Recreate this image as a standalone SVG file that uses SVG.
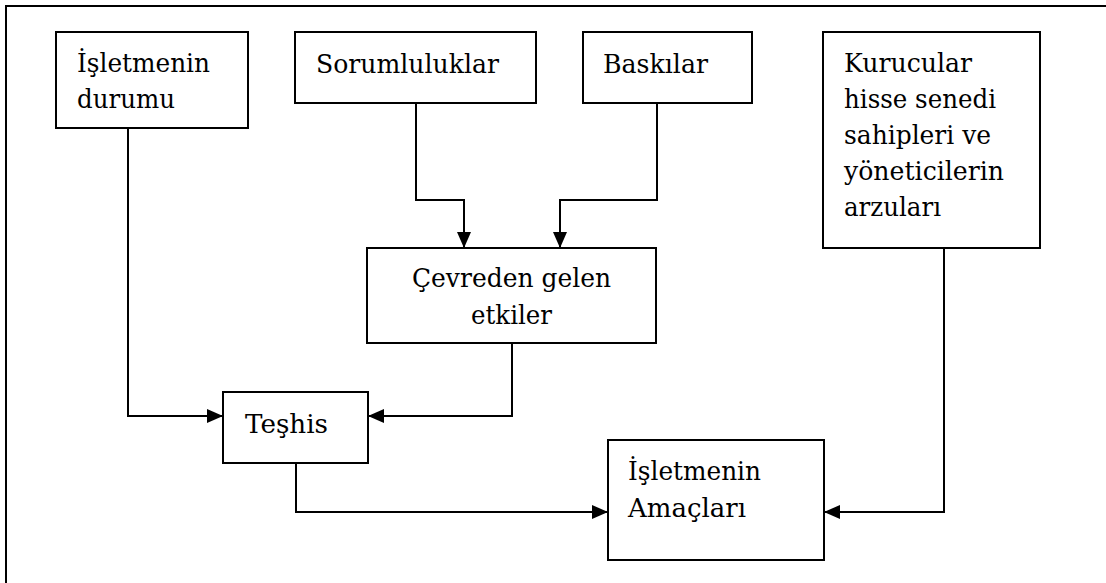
<svg xmlns="http://www.w3.org/2000/svg" width="1106" height="583" viewBox="0 0 1106 583">
<style>
.box{fill:#fff;stroke:#000;stroke-width:2}
.t{font-family:'DejaVu Serif','Liberation Serif',serif;font-size:26px;fill:#000}
.c{fill:none;stroke:#000;stroke-width:2}
</style>
<defs>
<marker id="ah" markerWidth="16" markerHeight="14" refX="16" refY="7" orient="auto" markerUnits="userSpaceOnUse">
<path d="M0,0 L16,7 L0,14 Z" fill="#000"/>
</marker>
</defs>
<rect x="0" y="0" width="1106" height="583" fill="#fff"/>
<path d="M6,583 L6,6 L1106,6" fill="none" stroke="#000" stroke-width="2"/>
<g id="connectors">
<path class="c" d="M416,103 L416,200 L464,200 L464,248" marker-end="url(#ah)"/>
<path class="c" d="M657,103 L657,200 L560,200 L560,248" marker-end="url(#ah)"/>
<path class="c" d="M128,128 L128,416 L223,416" marker-end="url(#ah)"/>
<path class="c" d="M512,343 L512,416 L368,416" marker-end="url(#ah)"/>
<path class="c" d="M296,463 L296,512 L608,512" marker-end="url(#ah)"/>
<path class="c" d="M944,248 L944,512 L824,512" marker-end="url(#ah)"/>
</g>
<g id="n-durum">
<rect class="box" x="56" y="32" width="192" height="96"/>
<text class="t" x="77" y="72" textLength="133" lengthAdjust="spacingAndGlyphs">İşletmenin</text>
<text class="t" x="77" y="108" textLength="98" lengthAdjust="spacingAndGlyphs">durumu</text>
</g>
<g id="n-sorum">
<rect class="box" x="295" y="32" width="241" height="71"/>
<text class="t" x="316" y="73" textLength="183" lengthAdjust="spacingAndGlyphs">Sorumluluklar</text>
</g>
<g id="n-baski">
<rect class="box" x="583" y="32" width="169" height="71"/>
<text class="t" x="603" y="73" textLength="105" lengthAdjust="spacingAndGlyphs">Baskılar</text>
</g>
<g id="n-kurucu">
<rect class="box" x="823" y="32" width="217" height="216"/>
<text class="t" x="844" y="72" textLength="128" lengthAdjust="spacingAndGlyphs">Kurucular</text>
<text class="t" x="844" y="108" textLength="152" lengthAdjust="spacingAndGlyphs">hisse senedi</text>
<text class="t" x="844" y="144" textLength="147" lengthAdjust="spacingAndGlyphs">sahipleri ve</text>
<text class="t" x="844" y="180" textLength="160" lengthAdjust="spacingAndGlyphs">yöneticilerin</text>
<text class="t" x="844" y="216" textLength="97" lengthAdjust="spacingAndGlyphs">arzuları</text>
</g>
<g id="n-cevre">
<rect class="box" x="367" y="248" width="289" height="95"/>
<text class="t" x="511.5" y="287" text-anchor="middle" textLength="199" lengthAdjust="spacingAndGlyphs">Çevreden gelen</text>
<text class="t" x="511.5" y="324" text-anchor="middle" textLength="81" lengthAdjust="spacingAndGlyphs">etkiler</text>
</g>
<g id="n-teshis">
<rect class="box" x="223" y="392" width="145" height="71"/>
<text class="t" x="245" y="433" textLength="83" lengthAdjust="spacingAndGlyphs">Teşhis</text>
</g>
<g id="n-amac">
<rect class="box" x="608" y="440" width="216" height="120"/>
<text class="t" x="628" y="480" textLength="133" lengthAdjust="spacingAndGlyphs">İşletmenin</text>
<text class="t" x="628" y="517" textLength="118" lengthAdjust="spacingAndGlyphs">Amaçları</text>
</g>
</svg>
